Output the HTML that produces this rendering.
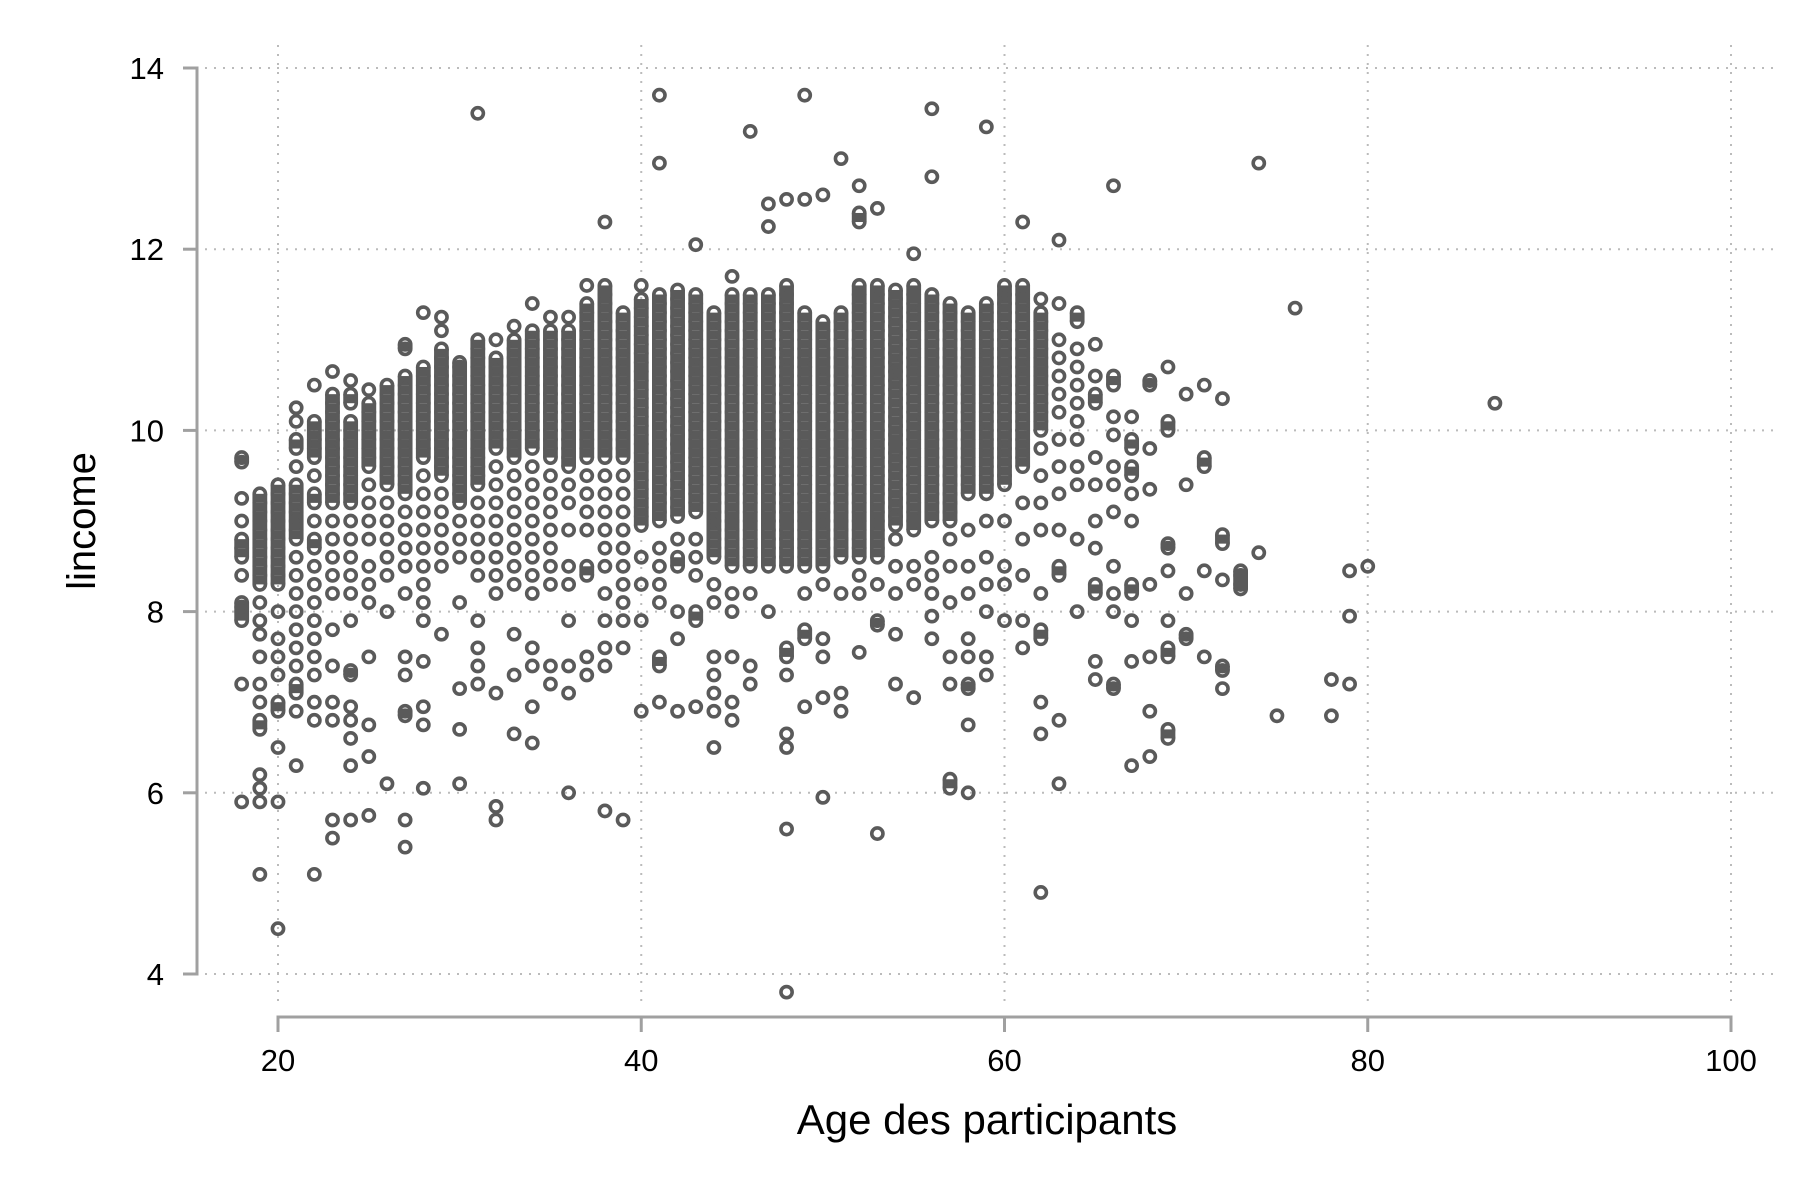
<!DOCTYPE html>
<html><head><meta charset="utf-8"><style>
html,body{margin:0;padding:0;background:#fff;}
svg{display:block;font-family:"Liberation Sans",sans-serif;}
</style></head><body>
<svg id="chart" width="1800" height="1200" viewBox="0 0 1800 1200" xmlns="http://www.w3.org/2000/svg">
<rect x="0" y="0" width="1800" height="1200" fill="#fff"/>
<g id="grid"></g>
<g id="points"></g>
<g id="axes"></g>
<text x="987" y="1134" font-size="42" text-anchor="middle" fill="#000">Age des participants</text>
<text x="0" y="0" font-size="40" text-anchor="middle" fill="#000" transform="translate(95,521) rotate(-90)">lincome</text>
</svg>
<script>
const xTicks = [20, 40, 60, 80, 100];
const yTicks = [4, 6, 8, 10, 12, 14];
const ages = [18,19,20,21,22,23,24,25,26,27,28,29,30,31,32,33,34,35,36,37,38,39,40,41,42,43,44,45,46,47,48,49,50,51,52,53,54,55,56,57,58,59,60,61,62,63,64,65,66,67,68,69,70,71,72,73,74,75,76,78,79,80,87];
const incomes = [
[9.7,9.65,9.25,9.0,8.8,8.7,8.6,8.4,8.1,8.05,8.0,7.9,7.2,5.9],
[9.3,9.2,9.1,9.0,8.9,8.8,8.7,8.6,8.5,8.4,8.3,8.1,7.9,7.75,7.5,7.2,7.0,6.8,6.7,6.2,6.05,5.9,5.1],
[9.4,9.3,9.2,9.1,9.0,8.9,8.8,8.7,8.6,8.5,8.4,8.3,8.0,7.7,7.5,7.3,7.0,6.9,6.5,5.9,4.5],
[10.25,10.1,9.9,9.8,9.6,9.4,9.3,9.2,9.1,9.0,8.9,8.8,8.6,8.4,8.2,8.0,7.8,7.6,7.4,7.2,7.1,6.9,6.3],
[10.5,10.1,10.0,9.9,9.8,9.7,9.5,9.3,9.2,9.0,8.8,8.7,8.5,8.3,8.1,7.9,7.7,7.5,7.3,7.0,6.8,5.1],
[10.65,10.4,10.3,10.2,10.1,10.0,9.9,9.8,9.7,9.6,9.5,9.4,9.3,9.2,9.0,8.8,8.6,8.4,8.2,7.8,7.4,7.0,6.8,5.7,5.5],
[10.55,10.4,10.3,10.1,10.0,9.9,9.8,9.7,9.6,9.5,9.4,9.3,9.2,9.0,8.8,8.6,8.4,8.2,7.9,7.35,7.3,6.95,6.8,6.6,6.3,5.7],
[10.45,10.3,10.2,10.1,10.0,9.9,9.8,9.7,9.6,9.4,9.2,9.0,8.8,8.5,8.3,8.1,7.5,6.75,6.4,5.75],
[10.5,10.4,10.3,10.2,10.1,10.0,9.9,9.8,9.7,9.6,9.5,9.4,9.2,9.0,8.8,8.6,8.4,8.0,6.1],
[10.95,10.9,10.6,10.5,10.4,10.3,10.2,10.1,10.0,9.9,9.8,9.7,9.6,9.5,9.4,9.3,9.1,8.9,8.7,8.5,8.2,7.5,7.3,6.9,6.85,5.7,5.4],
[11.3,10.7,10.6,10.5,10.4,10.3,10.2,10.1,10.0,9.9,9.8,9.7,9.5,9.3,9.1,8.9,8.7,8.5,8.3,8.1,7.9,7.45,6.95,6.75,6.05],
[11.25,11.1,10.9,10.8,10.7,10.6,10.5,10.4,10.3,10.2,10.1,10.0,9.9,9.8,9.7,9.6,9.5,9.3,9.1,8.9,8.7,8.5,7.75],
[10.75,10.7,10.6,10.5,10.4,10.3,10.2,10.1,10.0,9.9,9.8,9.7,9.6,9.5,9.4,9.3,9.2,9.0,8.8,8.6,8.1,7.15,6.7,6.1],
[13.5,11.0,10.9,10.8,10.7,10.6,10.5,10.4,10.3,10.2,10.1,10.0,9.9,9.8,9.7,9.6,9.5,9.4,9.2,9.0,8.8,8.6,8.4,7.9,7.6,7.4,7.2],
[11.0,10.8,10.7,10.6,10.5,10.4,10.3,10.2,10.1,10.0,9.9,9.8,9.6,9.4,9.2,9.0,8.8,8.6,8.4,8.2,7.1,5.85,5.7],
[11.15,11.0,10.9,10.8,10.7,10.6,10.5,10.4,10.3,10.2,10.1,10.0,9.9,9.8,9.7,9.5,9.3,9.1,8.9,8.7,8.5,8.3,7.75,7.3,6.65],
[11.4,11.1,11.0,10.9,10.8,10.7,10.6,10.5,10.4,10.3,10.2,10.1,10.0,9.9,9.8,9.6,9.4,9.2,9.0,8.8,8.6,8.4,8.2,7.6,7.4,6.95,6.55],
[11.25,11.1,11.0,10.9,10.8,10.7,10.6,10.5,10.4,10.3,10.2,10.1,10.0,9.9,9.8,9.7,9.5,9.3,9.1,8.9,8.7,8.5,8.3,7.4,7.2],
[11.25,11.1,11.0,10.9,10.8,10.7,10.6,10.5,10.4,10.3,10.2,10.1,10.0,9.9,9.8,9.7,9.6,9.4,9.2,8.9,8.5,8.3,7.9,7.4,7.1,6.0],
[11.6,11.4,11.3,11.2,11.1,11.0,10.9,10.8,10.7,10.6,10.5,10.4,10.3,10.2,10.1,10.0,9.9,9.8,9.7,9.5,9.3,9.1,8.9,8.5,8.4,7.5,7.3],
[12.3,11.6,11.5,11.4,11.3,11.2,11.1,11.0,10.9,10.8,10.7,10.6,10.5,10.4,10.3,10.2,10.1,10.0,9.9,9.8,9.7,9.5,9.3,9.1,8.9,8.7,8.5,8.2,7.9,7.6,7.4,5.8],
[11.3,11.2,11.1,11.0,10.9,10.8,10.7,10.6,10.5,10.4,10.3,10.2,10.1,10.0,9.9,9.8,9.7,9.5,9.3,9.1,8.9,8.7,8.5,8.3,8.1,7.9,7.6,5.7],
[11.6,11.45,11.35,11.25,11.15,11.05,10.95,10.85,10.75,10.65,10.55,10.45,10.35,10.25,10.15,10.05,9.95,9.85,9.75,9.65,9.55,9.45,9.35,9.25,9.15,9.05,8.95,8.6,8.3,7.9,6.9],
[13.7,12.95,11.5,11.4,11.3,11.2,11.1,11.0,10.9,10.8,10.7,10.6,10.5,10.4,10.3,10.2,10.1,10.0,9.9,9.8,9.7,9.6,9.5,9.4,9.3,9.2,9.1,9.0,8.7,8.5,8.3,8.1,7.5,7.4,7.0],
[11.55,11.45,11.35,11.25,11.15,11.05,10.95,10.85,10.75,10.65,10.55,10.45,10.35,10.25,10.15,10.05,9.95,9.85,9.75,9.65,9.55,9.45,9.35,9.25,9.15,9.05,8.8,8.6,8.5,8.0,7.7,6.9],
[12.05,11.5,11.4,11.3,11.2,11.1,11.0,10.9,10.8,10.7,10.6,10.5,10.4,10.3,10.2,10.1,10.0,9.9,9.8,9.7,9.6,9.5,9.4,9.3,9.2,9.1,8.8,8.6,8.4,8.0,7.9,6.95],
[11.3,11.2,11.1,11.0,10.9,10.8,10.7,10.6,10.5,10.4,10.3,10.2,10.1,10.0,9.9,9.8,9.7,9.6,9.5,9.4,9.3,9.2,9.1,9.0,8.9,8.8,8.7,8.6,8.3,8.1,7.5,7.3,7.1,6.9,6.5],
[11.7,11.5,11.4,11.3,11.2,11.1,11.0,10.9,10.8,10.7,10.6,10.5,10.4,10.3,10.2,10.1,10.0,9.9,9.8,9.7,9.6,9.5,9.4,9.3,9.2,9.1,9.0,8.9,8.8,8.7,8.6,8.5,8.2,8.0,7.5,7.0,6.8],
[13.3,11.5,11.4,11.3,11.2,11.1,11.0,10.9,10.8,10.7,10.6,10.5,10.4,10.3,10.2,10.1,10.0,9.9,9.8,9.7,9.6,9.5,9.4,9.3,9.2,9.1,9.0,8.9,8.8,8.7,8.6,8.5,8.2,7.4,7.2],
[12.5,12.25,11.5,11.4,11.3,11.2,11.1,11.0,10.9,10.8,10.7,10.6,10.5,10.4,10.3,10.2,10.1,10.0,9.9,9.8,9.7,9.6,9.5,9.4,9.3,9.2,9.1,9.0,8.9,8.8,8.7,8.6,8.5,8.0],
[12.55,11.6,11.5,11.4,11.3,11.2,11.1,11.0,10.9,10.8,10.7,10.6,10.5,10.4,10.3,10.2,10.1,10.0,9.9,9.8,9.7,9.6,9.5,9.4,9.3,9.2,9.1,9.0,8.9,8.8,8.7,8.6,8.5,7.6,7.5,7.3,6.65,6.5,5.6,3.8],
[13.7,12.55,11.3,11.2,11.1,11.0,10.9,10.8,10.7,10.6,10.5,10.4,10.3,10.2,10.1,10.0,9.9,9.8,9.7,9.6,9.5,9.4,9.3,9.2,9.1,9.0,8.9,8.8,8.7,8.6,8.5,8.2,7.8,7.7,6.95],
[12.6,11.2,11.1,11.0,10.9,10.8,10.7,10.6,10.5,10.4,10.3,10.2,10.1,10.0,9.9,9.8,9.7,9.6,9.5,9.4,9.3,9.2,9.1,9.0,8.9,8.8,8.7,8.6,8.5,8.3,7.7,7.5,7.05,5.95],
[13.0,11.3,11.2,11.1,11.0,10.9,10.8,10.7,10.6,10.5,10.4,10.3,10.2,10.1,10.0,9.9,9.8,9.7,9.6,9.5,9.4,9.3,9.2,9.1,9.0,8.9,8.8,8.7,8.6,8.2,7.1,6.9],
[12.7,12.4,12.3,11.6,11.5,11.4,11.3,11.2,11.1,11.0,10.9,10.8,10.7,10.6,10.5,10.4,10.3,10.2,10.1,10.0,9.9,9.8,9.7,9.6,9.5,9.4,9.3,9.2,9.1,9.0,8.9,8.8,8.7,8.6,8.4,8.2,7.55],
[12.45,11.6,11.5,11.4,11.3,11.2,11.1,11.0,10.9,10.8,10.7,10.6,10.5,10.4,10.3,10.2,10.1,10.0,9.9,9.8,9.7,9.6,9.5,9.4,9.3,9.2,9.1,9.0,8.9,8.8,8.7,8.6,8.3,7.9,7.85,5.55],
[11.55,11.45,11.35,11.25,11.15,11.05,10.95,10.85,10.75,10.65,10.55,10.45,10.35,10.25,10.15,10.05,9.95,9.85,9.75,9.65,9.55,9.45,9.35,9.25,9.15,9.05,8.95,8.8,8.5,8.2,7.75,7.2],
[11.95,11.6,11.5,11.4,11.3,11.2,11.1,11.0,10.9,10.8,10.7,10.6,10.5,10.4,10.3,10.2,10.1,10.0,9.9,9.8,9.7,9.6,9.5,9.4,9.3,9.2,9.1,9.0,8.9,8.5,8.3,7.05],
[13.55,12.8,11.5,11.4,11.3,11.2,11.1,11.0,10.9,10.8,10.7,10.6,10.5,10.4,10.3,10.2,10.1,10.0,9.9,9.8,9.7,9.6,9.5,9.4,9.3,9.2,9.1,9.0,8.6,8.4,8.2,7.95,7.7],
[11.4,11.3,11.2,11.1,11.0,10.9,10.8,10.7,10.6,10.5,10.4,10.3,10.2,10.1,10.0,9.9,9.8,9.7,9.6,9.5,9.4,9.3,9.2,9.1,9.0,8.8,8.5,8.1,7.5,7.2,6.15,6.05],
[11.3,11.2,11.1,11.0,10.9,10.8,10.7,10.6,10.5,10.4,10.3,10.2,10.1,10.0,9.9,9.8,9.7,9.6,9.5,9.4,9.3,8.9,8.5,8.2,7.7,7.5,7.2,7.15,6.75,6.0],
[13.35,11.4,11.3,11.2,11.1,11.0,10.9,10.8,10.7,10.6,10.5,10.4,10.3,10.2,10.1,10.0,9.9,9.8,9.7,9.6,9.5,9.4,9.3,9.0,8.6,8.3,8.0,7.5,7.3],
[11.6,11.5,11.4,11.3,11.2,11.1,11.0,10.9,10.8,10.7,10.6,10.5,10.4,10.3,10.2,10.1,10.0,9.9,9.8,9.7,9.6,9.5,9.4,9.0,8.5,8.3,7.9],
[12.3,11.6,11.5,11.4,11.3,11.2,11.1,11.0,10.9,10.8,10.7,10.6,10.5,10.4,10.3,10.2,10.1,10.0,9.9,9.8,9.7,9.6,9.2,8.8,8.4,7.9,7.6],
[11.45,11.3,11.2,11.1,11.0,10.9,10.8,10.7,10.6,10.5,10.4,10.3,10.2,10.1,10.0,9.8,9.5,9.2,8.9,8.2,7.8,7.7,7.0,6.65,4.9],
[12.1,11.4,11.0,10.8,10.6,10.4,10.2,9.9,9.6,9.3,8.9,8.5,8.4,6.8,6.1],
[11.3,11.2,10.9,10.7,10.5,10.3,10.1,9.9,9.6,9.4,8.8,8.0],
[10.95,10.6,10.4,10.3,9.7,9.4,9.0,8.7,8.3,8.2,7.45,7.25],
[12.7,10.6,10.5,10.15,9.95,9.6,9.4,9.1,8.5,8.2,8.0,7.2,7.15],
[10.15,9.9,9.8,9.6,9.5,9.3,9.0,8.3,8.2,7.9,7.45,6.3],
[10.55,10.5,9.8,9.35,8.3,7.5,6.9,6.4],
[10.7,10.1,10.0,8.75,8.7,8.45,7.9,7.6,7.5,6.7,6.6],
[10.4,9.4,8.2,7.75,7.7],
[10.5,9.7,9.6,8.45,7.5],
[10.35,8.85,8.75,8.35,7.4,7.35,7.15],
[8.45,8.4,8.3,8.25],
[12.95,8.65],
[6.85],
[11.35],
[7.25,6.85],
[8.45,7.95,7.2],
[8.5],
[10.3]
];

const NS = 'http://www.w3.org/2000/svg';
const X0 = 278, X1 = 1731, XMIN = 20, XMAX = 100;
const Y0 = 974, Y1 = 68, YMIN = 4, YMAX = 14;
const R = 5.6, SW = 3.6, MC = '#5a5a5a';
function xScale(v){ return X0 + (v - XMIN) * (X1 - X0) / (XMAX - XMIN); }
function yScale(v){ return Y0 - (v - YMIN) * (Y0 - Y1) / (YMAX - YMIN); }
function mk(tag, attrs, parent){
  const e = document.createElementNS(NS, tag);
  for (const k in attrs) e.setAttribute(k, attrs[k]);
  parent.appendChild(e);
  return e;
}
const grid = document.getElementById('grid');
const axes = document.getElementById('axes');
const pts = document.getElementById('points');

yTicks.forEach(t => {
  const y = yScale(t);
  const g = mk('line', {x1: 205, x2: 1775, y1: y, y2: y, stroke: '#bbb', 'stroke-width': 2, 'stroke-dasharray': '2 7'}, grid);
  
  
  const tk = mk('line', {x1: 183, x2: 197, y1: y, y2: y, stroke: '#a0a0a0', 'stroke-width': 3}, axes);
  
  
  const lb = mk('text', {x: 164, y: y + 11, 'font-size': 31, 'text-anchor': 'end', fill: '#000'}, axes);
  lb.textContent = t;
  
  
});
xTicks.forEach(t => {
  const x = xScale(t);
  const g = mk('line', {x1: x, x2: x, y1: 45, y2: 1008, stroke: '#bbb', 'stroke-width': 2, 'stroke-dasharray': '2 7'}, grid);
  
  
  const tk = mk('line', {x1: x, x2: x, y1: 1017, y2: 1032, stroke: '#a0a0a0', 'stroke-width': 3}, axes);
  
  
  const lb = mk('text', {x: x, y: 1071, 'font-size': 31, 'text-anchor': 'middle', fill: '#000'}, axes);
  lb.textContent = t;
  
  
});
const ya = mk('line', {x1: 197, x2: 197, y1: yScale(YMAX) - 1.5, y2: yScale(YMIN) + 1.5, stroke: '#a0a0a0', 'stroke-width': 3}, axes);


const xa = mk('line', {x1: xScale(XMIN) - 1.5, x2: xScale(XMAX) + 1.5, y1: 1017, y2: 1017, stroke: '#a0a0a0', 'stroke-width': 3}, axes);



ages.forEach((a, i) => {
  const vals = incomes[i].slice().sort((p, q) => q - p);
  // fill overlap between closely stacked markers (visual overplotting)
  for (let k = 0; k + 1 < vals.length; k++) {
    if (vals[k] - vals[k + 1] <= 0.101) {
      const f = mk('line', {x1: xScale(a), x2: xScale(a), y1: yScale(vals[k]), y2: yScale(vals[k + 1]), stroke: MC, 'stroke-width': 2 * R + SW}, pts);
      
      
    }
  }
  incomes[i].forEach(v => {
    const c = mk('circle', {cx: xScale(a), cy: yScale(v), r: R, fill: 'none', stroke: MC, 'stroke-width': SW}, pts);
    
    
  });
});
</script>
</body></html>
